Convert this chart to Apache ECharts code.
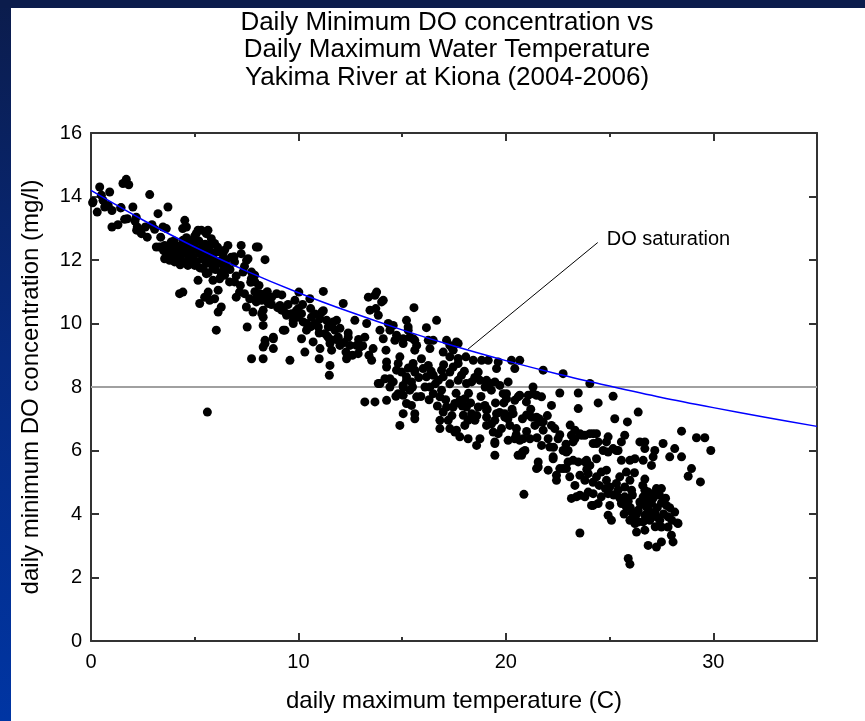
<!DOCTYPE html>
<html>
<head>
<meta charset="utf-8">
<title>Daily Minimum DO vs Daily Maximum Water Temperature</title>
<script src="https://cdn.jsdelivr.net/npm/echarts@6/dist/echarts.min.js"></script>
<style>
  html, body { margin: 0; padding: 0; background: #fff; }
  #chart { width: 865px; height: 721px; }
</style>
</head>
<body>
<div id="chart"></div>
<script>
// Chart text
const titleLines = [
  'Daily Minimum DO concentration vs',
  'Daily Maximum Water Temperature',
  'Yakima River at Kiona (2004-2006)'
];
const xAxisTitle = 'daily maximum temperature (C)';
const yAxisTitle = 'daily minimum DO concentration (mg/l)';
const saturationLabel = 'DO saturation';

// Axis ticks
const xTickValues = [0, 10, 20, 30];
const xMinorTickValues = [5, 15, 25];
const yTickInterval = 2;

// Daily observations: [daily max water temperature (C), daily min DO (mg/l)]
const observations = [
  [0.1,13.84],[0.3,13.51],[0.42,14.3],[0.5,14.04],[0.58,13.88],[0.66,13.67],[0.9,14.14],[1.01,13.56],[1.01,13.04],[1.3,13.11],
  [1.43,13.64],[1.54,14.41],[1.7,14.54],[1.82,14.37],[1.62,13.28],[1.75,13.3],[2.02,13.67],[2.18,13.35],[2.23,13.04],[2.35,12.94],
  [2.43,12.83],[2.62,13.04],[2.71,12.72],[2.83,14.06],[2.94,13.11],[3.07,12.97],[3.23,13.46],[3.15,12.41],[3.36,12.72],[3.47,13.04],
  [3.63,12.99],[3.71,13.67],[3.31,12.41],[3.55,12.46],[3.63,12.23],[3.79,12.25],[3.87,12.57],[3.95,12.41],[3.55,12.04],[3.79,11.99],
  [4.03,12.15],[4.03,11.94],[4.19,12.36],[4.27,12.15],[4.35,12.46],[4.35,11.99],[4.43,12.62],[4.52,13.25],[4.6,13.04],[4.6,12.31],
  [4.67,12.15],[4.67,11.83],[4.76,12.46],[4.83,12.04],[4.92,12.31],[5.0,11.83],[5.07,12.57],[5.07,12.83],[5.16,12.94],[5.24,12.2],
  [5.32,12.94],[5.4,11.73],[5.4,12.41],[5.48,11.99],[5.56,12.83],[5.64,12.94],[5.56,11.57],[5.64,12.2],[5.72,12.46],[5.8,12.67],
  [5.88,11.78],[5.88,11.36],[5.96,12.52],[5.96,11.99],[6.04,12.25],[6.13,11.05],[6.2,11.41],[6.28,11.57],[6.36,12.2],[6.44,12.31],
  [6.44,11.52],[6.52,11.83],[6.6,12.46],[5.96,10.78],[6.13,10.36],[6.28,10.52],[6.04,9.79],[5.65,10.99],[5.16,11.36],[5.24,10.63],
  [4.27,10.94],[4.43,10.99],[5.48,10.83],[5.72,10.73],[6.68,11.31],[6.76,12.09],[6.92,11.94],[6.92,11.31],[7.0,10.83],[7.16,10.99],
  [7.24,12.46],[7.24,12.2],[7.33,11.62],[7.4,10.94],[7.49,10.52],[7.53,9.89],[7.57,12.04],[7.65,10.78],[7.73,11.41],[7.81,10.36],
  [7.89,11.52],[7.97,12.41],[7.97,10.68],[4.42,12.99],[7.5,11.99],[0.08,13.8],[0.83,13.72],[1.45,13.65],[2.12,13.23],[2.2,12.94],
  [8.06,12.41],[8.3,10.42],[8.39,12.01],[8.14,10.94],[8.23,10.73],[8.39,10.94],[8.3,10.2],[8.3,9.94],[8.39,9.47],[8.3,9.26],
  [8.3,8.89],[7.74,8.89],[8.47,10.73],[8.63,10.78],[8.79,9.21],[8.79,9.52],[8.95,10.94],[9.11,10.57],[9.27,10.42],[9.35,9.79],
  [9.59,8.84],[9.43,10.31],[9.67,10.31],[9.75,10.0],[9.83,10.73],[9.99,10.2],[10.02,10.99],[5.61,7.21],
  [7.74,11.62],[7.9,11.31],[8.47,10.89],[8.55,10.63],[8.71,10.83],[8.23,10.31],[8.79,9.57],[8.39,9.37],[9.11,10.52],[9.19,10.42],
  [9.27,9.79],[9.43,10.26],[9.75,10.1],[9.99,10.47],[10.15,10.31],[10.23,10.05],[10.15,9.52],[10.31,9.1],[10.39,9.79],[10.55,10.78],
  [10.59,10.47],[10.63,10.2],[10.71,9.42],[10.8,10.0],[10.96,9.89],[11.04,10.15],[11.04,9.21],[11.0,8.89],[11.2,11.01],[11.12,10.36],
  [11.28,9.68],[11.36,10.1],[11.44,9.89],[11.49,9.52],[11.52,9.37],[11.52,8.68],[11.49,8.37],[11.6,9.16],[11.68,10.05],[11.76,9.79],
  [11.84,10.1],[11.92,9.57],[12.0,9.31],[12.16,10.63],[12.29,9.1],[12.32,8.89],[12.4,9.57],[12.48,9.31],[12.72,10.1],[12.8,9.31],
  [12.88,9.05],[12.96,9.26],[13.2,9.57],[13.29,10.0],[13.37,10.83],[13.45,10.42],[13.53,8.84],[13.6,9.21],[13.69,10.89],[13.73,10.47],
  [13.77,10.99],[13.85,10.26],[13.93,9.79],[14.01,10.68],[14.09,10.73],[14.09,9.52],[14.22,9.16],[14.25,8.79],[14.33,10.0],[14.41,9.79],
  [14.57,9.94],[14.65,9.47],[14.73,9.63],[14.81,8.74],[14.89,8.95],[15.05,9.37],[15.21,10.1],[15.29,9.79],[15.37,9.57],[15.57,10.5],
  [15.61,9.47],[15.61,9.16],[15.53,8.74],[15.7,9.31],[13.85,8.11],[14.25,8.63],[14.17,8.26],[14.41,8.0],[14.57,8.16],[14.73,8.53],
  [14.81,7.79],[15.05,8.05],[15.21,8.32],[15.37,7.9],[15.45,8.16],[15.61,8.53],[15.7,7.69],[13.2,7.53],[13.69,7.53],[14.25,7.58],
  [15.21,7.48],
  [16.66,10.1],[16.17,9.87],[17.14,9.47],[17.62,9.42],[17.38,9.26],[18.07,8.95],[18.43,8.84],[18.83,8.84],[19.15,8.84],[19.63,8.79],
  [20.27,8.84],[20.67,8.84],[21.8,8.53],[22.76,8.42],[24.05,8.11],[21.31,8.0],[22.6,7.81],[23.49,7.81],[23.49,7.32],[24.45,7.5],
  [22.2,7.42],[21.72,7.69],[21.31,7.79],[20.99,7.53],[20.59,7.69],[20.03,7.79],[20.35,7.16],[19.95,7.16],[19.55,7.16],[19.07,7.27],
  [13.93,8.11],[14.41,8.26],[21.0,7.12],[21.6,7.0],
  [15.29,9.89],[15.05,9.52],[15.53,9.52],[16.26,9.47],[16.34,9.21],[16.5,9.47],[17.3,9.31],[17.7,9.37],[16.98,9.1],[17.3,8.95],
  [17.46,9.16],[19.55,8.58],[20.43,8.58],[14.97,8.47],[15.21,8.21],[15.93,8.89],[15.61,8.47],[16.01,8.58],[16.26,8.68],[16.17,8.32],
  [16.5,8.37],[16.75,8.21],[16.9,8.53],[16.98,8.32],[17.3,8.47],[17.46,8.63],[17.7,8.74],[17.7,8.21],[17.86,8.37],[18.1,8.11],
  [18.35,8.16],[18.67,8.47],[18.75,8.21],[19.07,8.21],[19.23,8.11],[19.47,8.16],[19.71,8.05],[20.11,8.16],[19.87,7.79],[20.03,7.63],
  [20.43,7.58],[20.67,7.74],[21.08,7.74],[21.48,7.74],[15.05,8.0],[15.05,7.74],[15.45,7.42],[14.89,6.79],[15.05,7.16],[15.61,7.16],
  [15.61,7.0],[16.34,8.0],[16.5,7.79],[16.82,7.69],[16.98,7.21],[17.14,7.37],[17.46,7.37],[17.22,6.95],[17.54,7.48],[17.78,7.58],
  [18.02,7.63],[18.1,7.37],[18.35,7.16],[16.82,6.69],[17.3,6.69],[17.54,6.58],[17.78,6.43],[18.02,6.79],[18.18,6.37],[18.59,6.16],
  [18.75,6.37],[18.67,7.37],[18.99,7.42],[19.07,7.05],[19.07,6.79],[19.31,6.84],[19.47,6.95],[19.39,6.58],[19.63,6.53],[19.47,6.27],
  [19.79,6.69],[19.95,7.05],[20.19,6.79],[20.51,6.69],[20.11,6.32],[20.43,6.37],[20.67,6.32],[20.83,6.37],[21.16,6.37],[20.92,6.0],
  [20.59,5.85],[20.76,5.85],[19.47,5.85],[21.24,7.05],[21.48,7.05],[21.64,6.9],[21.4,6.79],[21.8,6.64],[22.2,6.79],[22.36,6.69],
  [22.04,6.37],[22.52,6.37],[21.72,6.16],[22.12,6.11],[22.28,5.8],[22.76,6.0],[21.56,5.64],[21.48,5.43],[22.04,5.38],[22.44,5.22],
  [22.76,5.43],[23.0,5.64],[22.44,5.06],[16.82,6.95],[18.18,6.95],[18.51,6.95],[17.95,7.11],
  [14.7,7.71],[17.62,6.64],[19.47,6.22],[20.8,5.95],[20.87,4.62],[21.56,5.48],[22.28,5.74],[22.6,5.43],[22.92,5.95],[23.08,5.17],
  [23.33,4.9],[23.16,4.49],[23.4,4.54],[23.57,4.59],[23.81,4.54],[23.97,4.69],[24.21,4.27],[24.21,4.64],[23.57,3.4],[23.57,6.53],
  [23.33,6.37],[23.89,5.69],[24.05,5.53],[24.21,6.53],[23.81,6.48],[24.37,6.22],
  [25.17,7.71],[25.25,7.0],[25.86,6.9],[26.38,7.21],[25.73,6.48],[28.47,6.61],[29.19,6.4],[29.59,6.4],[29.88,6.0],[28.95,5.43],
  [28.79,5.19],[29.38,5.01],[28.47,5.8],[28.14,6.06],[27.9,5.8],[27.58,6.22],[27.18,6.0],[27.1,5.8],[26.7,6.27],[26.46,6.27],
  [26.7,6.06],[26.62,5.69],[27.02,5.53],[26.22,5.74],[25.98,5.69],[25.57,6.27],[25.57,5.69],[25.81,5.32],[25.49,5.17],[25.98,5.06],
  [25.73,4.85],[26.06,4.75],[25.33,4.96],[25.41,4.75],[24.93,6.43],[24.85,6.27],[25.17,6.06],[25.33,6.0],[24.37,6.53],[24.05,6.53],
  [23.65,6.48],[23.33,6.64],[23.16,6.48],[23.24,6.27],[24.21,6.22],[24.45,6.27],[24.69,6.0],[24.93,5.95],[25.41,6.0],[23.0,6.0],
  [23.24,5.69],[23.49,5.64],[23.81,5.64],[24.37,5.74],[22.92,5.43],[23.57,5.22],[23.81,5.06],[23.97,5.27],[24.37,5.17],[24.6,5.32],
  [24.85,5.38],[24.85,5.06],[25.01,4.85],[24.93,4.64],[24.6,4.54],[24.13,4.27],[24.45,4.33],[25.01,4.27],[24.93,3.96],[25.09,3.8],
  [25.57,4.33],[25.73,4.54],[25.81,4.22],[26.06,4.06],[25.98,3.8],[26.22,3.7],[26.3,3.43],[26.22,3.91],[26.38,4.12],[26.46,4.38],
  [26.62,4.54],[26.7,4.75],[26.86,4.69],[27.1,4.64],[27.26,4.8],[27.5,4.8],[26.78,4.22],[27.02,4.33],[27.18,4.06],[26.7,3.96],
  [26.94,3.8],[26.62,3.75],[26.7,3.49],[27.26,3.91],[27.42,3.8],[27.5,3.59],[27.74,4.27],[27.82,3.91],[27.82,3.59],[28.14,4.06],
  [28.3,3.7],[27.98,3.33],[28.06,3.12],[26.86,3.01],[27.26,2.96],[27.5,3.12],[25.9,2.6],[25.98,2.42],[28.27,3.72],
  [3.9,12.3],[4.1,12.45],[4.2,12.05],[4.4,12.2],[4.5,12.5],[4.6,11.9],[4.7,12.35],[4.8,12.6],[4.9,12.1],[5.0,12.4],
  [5.1,11.95],[5.2,12.6],[5.3,12.3],[5.4,12.05],[5.5,12.5],[5.6,11.9],[5.7,12.3],[5.8,12.0],[5.9,12.2],[6.0,11.7],
  [6.1,12.4],[6.2,11.9],[6.3,12.0],[6.4,11.7],[4.3,11.85],[4.6,12.7],[5.0,12.75],[4.0,12.6],[3.7,12.4],[3.8,12.15],
  [3.5,12.3],[4.4,12.35],[5.25,11.75],[5.65,11.6],[6.5,12.0],[6.7,11.7],[7.0,11.5],[7.2,11.2],[7.4,11.8],[6.9,12.1],
  [7.7,11.3],[7.9,11.0],[8.1,11.2],[8.0,10.8],[8.5,11.0],[8.7,10.6],[9.0,10.5],[9.2,10.9],[9.5,10.6],[9.9,10.4],
  [10.2,10.6],[10.4,10.0],[10.6,9.9],[10.8,10.3],[11.0,9.7],[11.2,10.4],[11.4,9.6],[11.6,9.95],[11.8,9.5],[12.0,9.85],
  [12.2,9.4],[12.4,9.7],[12.6,9.0],[12.9,9.5],[13.1,9.3],[13.4,9.0],
  [15.3,8.6],[15.5,8.0],[15.8,8.3],[15.9,7.7],[16.1,8.0],[16.3,7.6],[16.4,8.5],[16.6,8.1],[16.7,7.4],[16.9,7.9],
  [17.0,8.7],[17.1,7.6],[17.3,8.1],[17.4,7.1],[17.6,7.8],[17.7,8.9],[17.9,7.4],[18.0,8.5],[18.2,7.8],[18.3,7.5],
  [18.5,8.3],[18.6,7.1],[18.8,7.7],[19.0,8.0],[19.1,7.3],[19.3,7.9],[19.5,7.5],[19.7,7.2],[19.9,7.5],[20.1,7.0],
  [20.3,7.3],[20.5,6.5],[20.8,7.0],[21.0,6.6],[21.2,7.3],[21.5,6.4],[21.8,6.9],[22.0,7.1],[22.3,6.1],[22.6,6.5],
  [22.9,6.2],[23.1,6.8],
  [25.9,4.4],[26.1,4.6],[26.3,4.0],[26.5,4.3],[26.6,4.9],[26.8,4.45],[26.9,4.1],[27.0,3.9],[27.1,4.5],[27.3,4.2],
  [27.4,4.6],[27.6,4.0],[27.7,4.5],[27.9,4.2],[28.0,3.8],[26.4,3.75],[26.0,4.2],[25.7,4.0],[27.2,3.6],[27.5,4.35],
  [26.7,5.1],[26.2,5.3],[25.5,4.5],[25.2,4.6],[24.8,4.8],[24.5,4.9],[24.2,5.0],[23.9,5.4]
];

// Dissolved oxygen saturation at the site vs water temperature
const satTemp = [0, 2.5, 5, 7.5, 10, 12.5, 15, 17.5, 20, 22.5, 25, 27.5, 30, 32.5, 35];
const satDO   = [14.19, 13.26, 12.41, 11.65, 10.97, 10.36, 9.80, 9.29, 8.83, 8.41, 8.03, 7.67, 7.35, 7.05, 6.76];

// 8 mg/l reference level
const limitDO = 8;

// Leader from the saturation curve to its label, in data units
const leaderStart = [18.17, 9.19];
const leaderEnd = [24.43, 12.55];

const X_MIN = 0, X_MAX = 35, Y_MIN = 0, Y_MAX = 16;
const FONT = '"Liberation Sans", Arial, Helvetica, sans-serif';
const AXIS_COLOR = '#333333';

function xAxisDef(position, tickValues, tickLen, opts) {
  opts = opts || {};
  return {
    type: 'value',
    position: position,
    min: X_MIN, max: X_MAX, interval: 5,
    axisLine: { show: !!opts.line, onZero: false, lineStyle: { color: AXIS_COLOR, width: 2 } },
    axisTick: { show: true, inside: true, length: tickLen, customValues: tickValues,
                lineStyle: { color: AXIS_COLOR, width: 2 } },
    axisLabel: { show: !!opts.labels, customValues: xTickValues, margin: 11,
                 color: '#000', fontSize: 20, fontFamily: FONT },
    splitLine: { show: false },
    name: opts.name || '',
    nameLocation: 'middle',
    nameGap: 48,
    nameTextStyle: { color: '#000', fontSize: 24, fontFamily: FONT }
  };
}

function yAxisDef(position, opts) {
  opts = opts || {};
  return {
    type: 'value',
    position: position,
    min: Y_MIN, max: Y_MAX, interval: yTickInterval,
    axisLine: { show: true, onZero: false, lineStyle: { color: AXIS_COLOR, width: 2 } },
    axisTick: { show: true, inside: true, length: 8, lineStyle: { color: AXIS_COLOR, width: 2 } },
    axisLabel: { show: !!opts.labels, margin: 9, color: '#000', fontSize: 20, fontFamily: FONT },
    splitLine: { show: false },
    name: opts.name || '',
    nameLocation: 'middle',
    nameGap: 48,
    nameTextStyle: { color: '#000', fontSize: 24, fontFamily: FONT }
  };
}

const chart = echarts.init(document.getElementById('chart'), null, { renderer: 'canvas' });

chart.setOption({
  animation: false,
  backgroundColor: '#ffffff',
  textStyle: { fontFamily: FONT },
  graphic: [
    {
      // three-line heading
      type: 'text', x: 447, y: 9, z: 100, silent: true,
      style: {
        text: titleLines.join('\n'),
        fill: '#000',
        fontSize: 26,
        fontFamily: FONT,
        lineHeight: 27.5,
        align: 'center',
        verticalAlign: 'top'
      }
    },
    {
      type: 'rect', x: 0, y: 0, z: 100, silent: true,
      shape: { width: 11, height: 721 },
      style: { fill: { type: 'linear', x: 0, y: 0, x2: 0, y2: 1,
        colorStops: [{ offset: 0, color: '#0b1c4c' }, { offset: 0.5, color: '#062a80' }, { offset: 1, color: '#0035a3' }] } }
    },
    {
      type: 'rect', x: 0, y: 0, z: 100, silent: true,
      shape: { width: 865, height: 8 },
      style: { fill: '#0b1c4c' }
    }
  ],
  grid: { left: 91, right: 48, top: 133, bottom: 80, containLabel: false },
  xAxis: [
    xAxisDef('bottom', xTickValues, 8, { line: true, labels: true, name: xAxisTitle }),
    xAxisDef('bottom', xMinorTickValues, 4, {}),
    xAxisDef('top', xTickValues, 8, { line: true }),
    xAxisDef('top', xMinorTickValues, 4, {})
  ],
  yAxis: [
    yAxisDef('left', { labels: true, name: yAxisTitle }),
    yAxisDef('right', {})
  ],
  series: [
    {
      name: 'reference level',
      type: 'line',
      data: [[X_MIN, limitDO], [X_MAX, limitDO]],
      symbol: 'none',
      silent: true,
      z: 1,
      lineStyle: { color: '#a0a0a0', width: 2 }
    },
    {
      name: 'daily minimum DO',
      type: 'scatter',
      data: observations,
      symbol: 'circle',
      symbolSize: 9,
      z: 2,
      itemStyle: { color: '#000000', opacity: 1 }
    },
    {
      name: saturationLabel,
      type: 'line',
      data: satTemp.map((t, i) => [t, satDO[i]]),
      smooth: 0.3,
      symbol: 'none',
      z: 3,
      lineStyle: { color: '#0000ff', width: 1.5 }
    },
    {
      name: 'leader',
      type: 'line',
      data: [leaderStart, leaderEnd],
      symbol: 'none',
      z: 3,
      lineStyle: { color: '#000000', width: 1 },
      endLabel: {
        show: true,
        formatter: saturationLabel,
        distance: 9,
        offset: [0, -3],
        color: '#000',
        fontSize: 20,
        fontFamily: FONT
      }
    }
  ]
});
</script>
</body>
</html>
